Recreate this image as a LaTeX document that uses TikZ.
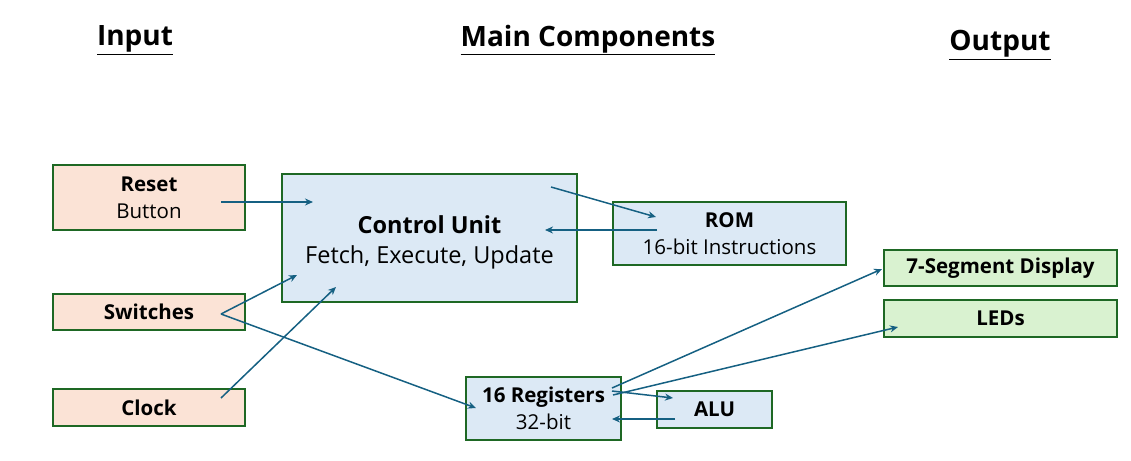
\documentclass[tikz,border=0pt]{standalone}
\usepackage{fontspec}
\setmainfont{Open Sans}
\definecolor{inpeach}{RGB}{251,227,214}
\definecolor{coreblue}{RGB}{220,233,245}
\definecolor{outgreen}{RGB}{217,242,208}
\definecolor{boxgreen}{RGB}{30,104,36}
\definecolor{linkblue}{RGB}{21,96,130}
\usetikzlibrary{calc, positioning, arrows.meta}

\begin{document}
\begin{tikzpicture}[
    x=1pt, y=-1pt,
    box/.style={draw=boxgreen, line width=1.9pt, inner sep=0pt,
      align=center, font=\fontsize{20.5}{27}\selectfont},
    inbox/.style={box, fill=inpeach},
    corebox/.style={box, fill=coreblue},
    outbox/.style={box, fill=outgreen},
    head/.style={font=\fontsize{28}{32}\selectfont\bfseries},
    link/.style={draw=linkblue, line width=1.5pt,
      -{Stealth[length=8pt, width=7pt]}},
  ]
    \useasboundingbox (0,0) rectangle (1131,460);

    % column titles
    \node[head] (hin)  at (135,40)  {\underline{Input}};
    \node[head] (hmid) at (588,40)  {\underline{Main Components}};
    \node[head] (hout) at (1000,45) {\underline{Output}};

    % inputs
    \node[inbox, minimum width=192pt, minimum height=65pt] (reset) at (149,197.5)
      {\textbf{Reset}\\Button};
    \node[inbox, minimum width=192pt, minimum height=36pt] (switches) at (149,312)
      {\textbf{Switches}};
    \node[inbox, minimum width=192pt, minimum height=37pt] (clock) at (149,407.5)
      {\textbf{Clock}};

    % main components
    \node[corebox, minimum width=295pt, minimum height=128pt, text height=57pt,
      font=\fontsize{23.5}{30}\selectfont] (cu) at (429.5,238)
      {\textbf{Control Unit}\\Fetch, Execute, Update};
    \node[corebox, minimum width=233pt, minimum height=63pt] (rom) at (729.5,233.5)
      {\textbf{ROM}\\16-bit Instructions};
    \node[corebox, minimum width=155pt, minimum height=63pt] (regs) at (543.5,408.5)
      {\textbf{16 Registers}\\32-bit};
    \node[corebox, minimum width=115pt, minimum height=37pt] (alu) at (714.5,409.5)
      {\textbf{ALU}};

    % outputs
    \node[outbox, minimum width=233pt, minimum height=36pt] (seg) at (1000.5,268)
      {\textbf{7-Segment Display}};
    \node[outbox, minimum width=233pt, minimum height=37pt] (leds) at (1000.5,318.5)
      {\textbf{LEDs}};

    % connections
    \draw[link] ([shift={(72,4.5)}]reset.center) -- ([shift={(-116.5,-36)}]cu.center);
    \draw[link] ([shift={(121.5,-51)}]cu.center) -- ([shift={(-73.5,-16.5)}]rom.center);
    \draw[link] ([shift={(-72.5,-3.5)}]rom.center) -- ([shift={(115.5,-8)}]cu.center);
    \draw[link] ([shift={(72,2)}]switches.center) -- ([shift={(-132.5,37)}]cu.center);
    \draw[link] ([shift={(72,2)}]switches.center) -- ([shift={(-67.5,-0.5)}]regs.center);
    \draw[link] ([shift={(72,-9.5)}]clock.center) -- ([shift={(-93.5,49)}]cu.center);
    \draw[link] ([shift={(68.5,-20.5)}]regs.center) -- ([shift={(-118.5,1)}]seg.center);
    \draw[link] ([shift={(69.5,-13.5)}]regs.center) -- ([shift={(-102.5,8.5)}]leds.center);
    \draw[link] ([shift={(68.5,-17.5)}]regs.center) -- ([shift={(-41.5,-11.5)}]alu.center);
    \draw[link] ([shift={(-39.5,9.5)}]alu.center) -- ([shift={(68.5,10.5)}]regs.center);
  \end{tikzpicture}
\end{document}
